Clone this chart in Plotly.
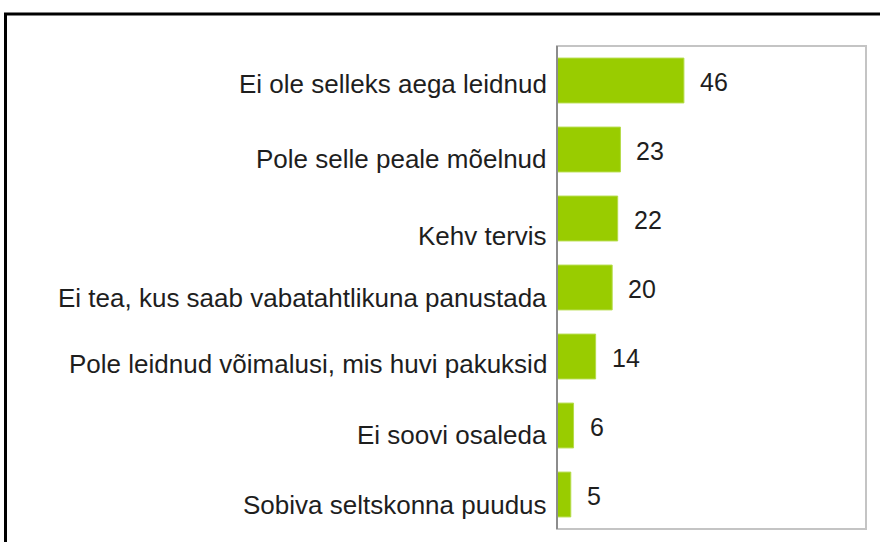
import plotly.graph_objects as go

# Reasons for not volunteering (share of respondents)
categories = [
    "Ei ole selleks aega leidnud",
    "Pole selle peale mõelnud",
    "Kehv tervis",
    "Ei tea, kus saab vabatahtlikuna panustada",
    "Pole leidnud võimalusi, mis huvi pakuksid",
    "Ei soovi osaleda",
    "Sobiva seltskonna puudus",
]
values = [46, 23, 22, 20, 14, 6, 5]

# vertical nudge (px) of each category label relative to its bar
label_dy = [-3, -9, -17, -10, -7, -9, -10]

W, H = 880, 542
L, R, T, B = 557, 14, 46, 13
pw, ph = W - L - R, H - T - B

FONT = "Arial, Liberation Sans, sans-serif"
TXT = "#1e1e1e"

fig = go.Figure(
    go.Bar(
        x=values,
        y=categories,
        orientation="h",
        marker=dict(color="#99CC00", line=dict(color="#b5dc4a", width=1)),
        hoverinfo="skip",
    )
)

annotations = []
for cat, val, dy in zip(categories, values, label_dy):
    annotations.append(dict(
        x=val, y=cat, xref="x", yref="y", text=str(val), showarrow=False,
        xanchor="left", yanchor="middle", xshift=14, yshift=-1,
        font=dict(family=FONT, size=25, color=TXT),
    ))
    annotations.append(dict(
        x=0, y=cat, xref="paper", yref="y", text=cat, showarrow=False,
        xanchor="right", yanchor="middle", xshift=-8, yshift=dy,
        font=dict(family=FONT, size=26, color=TXT),
    ))

def px_x(p):
    return (p - L) / pw

def px_y(p):
    return 1 - (p - T) / ph

shapes = [
    # plot frame
    dict(type="rect", xref="paper", yref="paper", x0=0, x1=1, y0=0, y1=1,
         line=dict(color="#c4c4c4", width=2), layer="above"),
    # value axis baseline
    dict(type="line", xref="paper", yref="paper", x0=0, x1=0, y0=0, y1=1,
         line=dict(color="#7a7a7a", width=1.5), layer="above"),
    # outer chart border
    dict(type="rect", xref="paper", yref="paper",
         x0=px_x(5.5), x1=px_x(W + 20), y0=px_y(H + 20), y1=px_y(14),
         line=dict(color="#000000", width=3), layer="above"),
]

fig.update_layout(
    width=W, height=H,
    margin=dict(l=L, r=R, t=T, b=B, pad=0),
    paper_bgcolor="white", plot_bgcolor="white",
    showlegend=False,
    bargap=0.35,
    xaxis=dict(range=[0, 112], showgrid=False, zeroline=False,
               showticklabels=False, ticks="", fixedrange=True),
    yaxis=dict(categoryorder="array", categoryarray=categories,
               autorange="reversed", showgrid=False, zeroline=False,
               showticklabels=False, ticks="", fixedrange=True),
    annotations=annotations,
    shapes=shapes,
)

fig.write_html("out.html", config={"displayModeBar": False})
